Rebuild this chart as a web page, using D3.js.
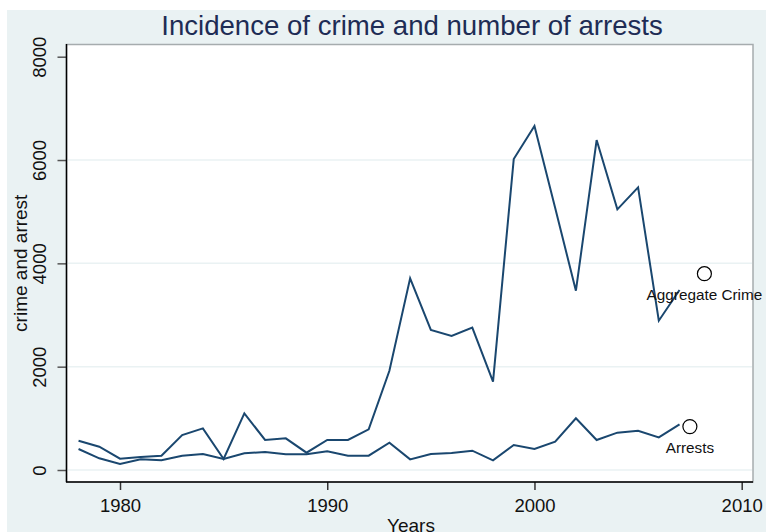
<!DOCTYPE html>
<html>
<head>
<meta charset="utf-8">
<script src="https://d3js.org/d3.v7.min.js"></script>
<style>
  body { margin: 0; background: white; }
  text { font-family: "Liberation Sans", Arial, sans-serif; }
</style>
</head>
<body>
<div id="chart"></div>
<script>
// data
years = [1978, 1979, 1980, 1981, 1982, 1983, 1984, 1985, 1986, 1987,
         1988, 1989, 1990, 1991, 1992, 1993, 1994, 1995, 1996, 1997,
         1998, 1999, 2000, 2001, 2002, 2003, 2004, 2005, 2006, 2007]
crime = [567, 451, 219, 252, 277, 677, 806, 213, 1097, 581,
         613, 335, 581, 581, 787, 1920, 3710, 2710, 2594, 2755,
         1710, 6019, 6658, 5070, 3470, 6387, 5046, 5472, 2890, 3484]
arrests = [406, 226, 116, 206, 187, 277, 310, 213, 322, 348,
           303, 303, 361, 277, 277, 529, 206, 310, 329, 374,
           187, 484, 406, 548, 1000, 581, 723, 761, 632, 884]

// the two labelled markers
labelNames = ["Aggregate Crime", "Arrests"]
labelYears = [2008.2, 2007.5]
labelValues = [3800, 840]

yTicks = [0, 2000, 4000, 6000, 8000]
xTicks = [1980, 1990, 2000, 2010]

width = 766
height = 532
plot = {left: 66.5, top: 44.5, right: 753, bottom: 482}
lineColor = "#1a476f"

svg = d3.select('#chart')
  .append('svg')
  .attr('width', width)
  .attr('height', height)

svg.append('rect')
  .attr('x', 7).attr('y', 10)
  .attr('width', width - 7).attr('height', height - 10)
  .attr('fill', '#eaf2f3')

x = d3.scaleLinear().domain([1980, 2010]).range([120, 741.7])
y = d3.scaleLinear().domain([0, 8000]).range([470, 56.7])

svg.append('rect')
  .attr('x', plot.left).attr('y', plot.top)
  .attr('width', plot.right - plot.left)
  .attr('height', plot.bottom - plot.top)
  .attr('fill', 'white')
  .attr('stroke', '#a6acae')
  .attr('stroke-width', 1.5)

// grid
svg.append('g')
  .selectAll('line')
  .data(yTicks.filter(d => d < 8000))
  .enter().append('line')
  .attr('x1', plot.left + 1).attr('x2', plot.right - 1)
  .attr('y1', d => y(d)).attr('y2', d => y(d))
  .attr('stroke', '#eaf2f3')
  .attr('stroke-width', 1.5)

// axes
yAxis = svg.append('g')
  .attr('transform', `translate(${plot.left},0)`)
  .call(d3.axisLeft(y).tickValues(yTicks).tickSize(9).tickPadding(18).tickFormat(d3.format('d')))
yAxis.select('.domain').remove()
yAxis.selectAll('.tick line').attr('stroke', '#555').attr('stroke-width', 1.5)
yAxis.selectAll('.tick text')
  .attr('font-size', 18.5)
  .attr('fill', '#111')
  .attr('text-anchor', 'middle')
  .attr('transform', 'rotate(-90)')
  .attr('x', 0)
  .attr('dy', 0)
  .attr('y', -21)

xAxis = svg.append('g')
  .attr('transform', `translate(0,${plot.bottom})`)
  .call(d3.axisBottom(x).tickValues(xTicks).tickSize(8).tickPadding(4).tickFormat(d3.format('d')))
xAxis.select('.domain').remove()
xAxis.selectAll('.tick line').attr('stroke', '#333').attr('stroke-width', 1.5)
xAxis.selectAll('.tick text')
  .attr('font-size', 18.5)
  .attr('fill', '#111')
  .attr('dy', '0.95em')

svg.append('line')
  .attr('x1', plot.left).attr('x2', plot.left)
  .attr('y1', plot.top - 0.5).attr('y2', plot.bottom)
  .attr('stroke', '#000').attr('stroke-width', 1.5)
svg.append('line')
  .attr('x1', plot.left - 0.5).attr('x2', plot.right)
  .attr('y1', plot.bottom).attr('y2', plot.bottom)
  .attr('stroke', '#000').attr('stroke-width', 1.5)

// lines
line = d3.line()
  .x((d, i) => x(years[i]))
  .y(d => y(d))

svg.append('path')
  .datum(crime)
  .attr('d', line)
  .attr('fill', 'none')
  .attr('stroke', lineColor)
  .attr('stroke-width', 2)
  .attr('stroke-linejoin', 'miter')

svg.append('path')
  .datum(arrests)
  .attr('d', line)
  .attr('fill', 'none')
  .attr('stroke', lineColor)
  .attr('stroke-width', 2)

// labelled markers
labels = svg.append('g')
  .selectAll('g')
  .data(labelNames)
  .enter().append('g')
  .attr('transform', (d, i) => `translate(${x(labelYears[i])},${y(labelValues[i])})`)

labels.append('circle')
  .attr('r', 7)
  .attr('fill', 'white')
  .attr('stroke', '#000')
  .attr('stroke-width', 1.2)

labels.append('text')
  .attr('y', 26)
  .attr('text-anchor', 'middle')
  .attr('font-size', 15.3)
  .attr('fill', '#111')
  .text(d => d)

// titles
svg.append('text')
  .attr('x', 412).attr('y', 35)
  .attr('text-anchor', 'middle')
  .attr('font-size', 27.6)
  .attr('fill', '#1e2c55')
  .text('Incidence of crime and number of arrests')

svg.append('text')
  .attr('transform', `translate(27,${(plot.top + plot.bottom) / 2}) rotate(-90)`)
  .attr('text-anchor', 'middle')
  .attr('font-size', 19)
  .attr('fill', '#111')
  .text('crime and arrest')

// cut off at the bottom edge, as in the reference
svg.append('text')
  .attr('x', 411).attr('y', 532)
  .attr('text-anchor', 'middle')
  .attr('font-size', 19)
  .attr('fill', '#111')
  .text('Years')
</script>
</body>
</html>
